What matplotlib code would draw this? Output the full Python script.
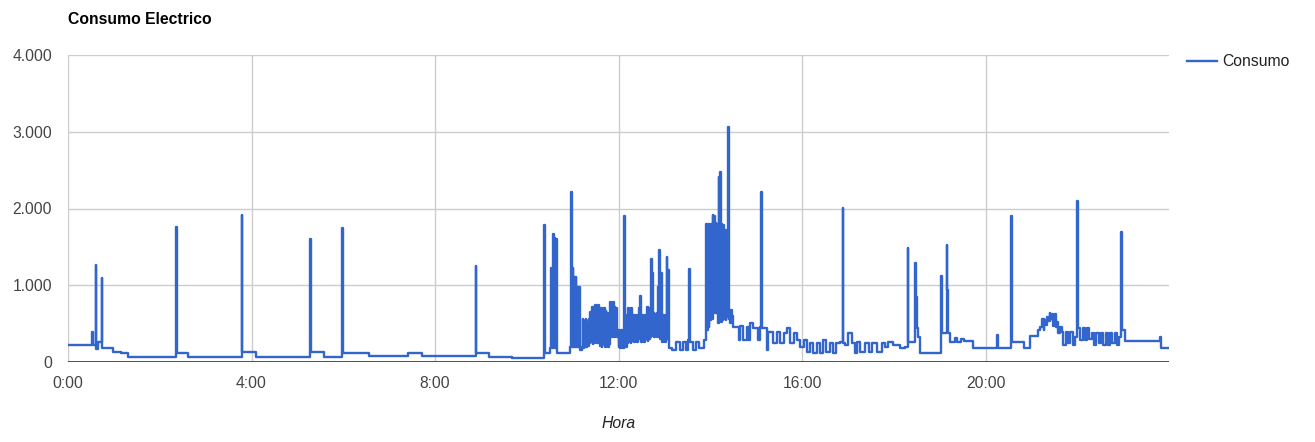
import numpy as np
import matplotlib.pyplot as plt
from matplotlib.ticker import FuncFormatter

# step breakpoints: minute of day -> watts (sparse parts of the day)
minutes_night = [0, 32, 33, 36, 37, 39, 44, 45, 59, 69, 79, 141, 142, 157, 227, 228, 246,
                 317, 318, 335, 359, 360, 394, 445, 463, 533, 534, 550, 581, 623, 624, 630,
                 632, 633, 634, 635, 636, 637, 638, 639, 640, 657, 658, 659, 660, 661, 662,
                 663, 664, 665, 666, 667, 668, 669, 670, 672]
watts_night = [220, 390, 220, 1270, 170, 260, 1090, 180, 130, 115, 65, 1760, 117, 65, 1920, 130, 65,
               1600, 130, 65, 1740, 120, 72, 120, 72, 1250, 120, 68, 55, 1785, 115, 180,
               1225, 180, 1665, 200, 1615, 180, 1600, 140, 120, 195, 2215, 200, 1225, 195, 1110,
               200, 1110, 195, 980, 200, 980, 200, 155, 200]

minutes_midday = [787, 790, 795, 800, 804, 808, 811, 812, 813, 817, 821, 825, 832]
watts_midday = [180, 155, 260, 155, 260, 160, 290, 1210, 260, 155, 260, 180, 290]

minutes_afternoon = [870, 877, 879, 883, 888, 890, 892, 896, 903, 905, 907, 908, 914, 916, 922,
                     927, 931, 936, 940, 944, 949, 953, 957, 962, 966, 970, 975, 979, 984, 988,
                     992, 997, 1001, 1005, 1010, 1013, 1014, 1016, 1020, 1025, 1029, 1032, 1036,
                     1042, 1047, 1051, 1058, 1064, 1069, 1073, 1079, 1088, 1095, 1098, 1099,
                     1108, 1109, 1110, 1112, 1114, 1142, 1143, 1149, 1150, 1151, 1154, 1160,
                     1163, 1168, 1172, 1184, 1215, 1217, 1234, 1235, 1250, 1258, 1269, 1271,
                     1274, 1276, 1277, 1279, 1281, 1282, 1284, 1285, 1287, 1288, 1289, 1290,
                     1291, 1292, 1294, 1295, 1297, 1300, 1302, 1305, 1308,
                     1311, 1314, 1317, 1320, 1321, 1324, 1327, 1330, 1333, 1336, 1339, 1342,
                     1345, 1348, 1351, 1354, 1357, 1360, 1363, 1366, 1369, 1372, 1375, 1377,
                     1378, 1379, 1382, 1428, 1430]
watts_afternoon = [455, 290, 470, 290, 455, 290, 505, 440, 290, 455, 2215, 440, 155, 390, 250,
                   390, 250, 380, 440, 250, 380, 290, 195, 290, 130, 250, 115, 250, 115, 290,
                   130, 250, 115, 250, 260, 2005, 250, 220, 380, 250, 115, 260, 130,
                   250, 130, 250, 130, 250, 195, 260, 220, 180, 195, 1485, 260,
                   1290, 850, 440, 330, 115, 1120, 375, 1525, 940, 380, 260, 310,
                   260, 300, 275, 180, 350, 180, 1900, 260, 180, 340, 420, 450,
                   560, 420, 545, 480, 590, 530, 640, 560, 620, 470, 600, 545,
                   620, 455, 520, 380, 455, 390, 220, 390, 250,
                   390, 220, 330, 2095, 440, 290, 440, 290, 440, 300, 380, 220,
                   380, 250, 380, 220, 380, 220, 380, 250, 380, 220, 330, 1695,
                   590, 415, 275, 325, 180]

# dense one-minute blocks
dense_a_start = 673
dense_a = [560, 180, 540, 200, 560, 190, 520, 210, 560, 250, 650, 260, 715, 240, 690, 250,
           740, 270, 720, 250, 740, 300, 700, 210, 700, 195, 680, 230, 700, 200, 660, 260,
           640, 200, 620, 230, 780, 330, 760, 340, 780, 330, 715, 340, 700, 330, 415, 200,
           380, 180, 415, 190, 400, 180, 1900, 195, 610, 200, 590, 250, 700, 260, 680, 250,
           700, 270, 610, 260, 600, 280, 610, 260, 590, 300, 700, 860, 300, 260, 610, 270,
           600, 260, 610, 300, 715, 280, 700, 300, 600, 330, 1340, 1160, 340, 640, 330, 620,
           350, 640, 330, 980, 1460, 300, 620, 1160, 260, 610, 280, 600, 260, 610, 1370, 300,
           1200, 180]

dense_b_start = 835
dense_b = [1800, 415, 1800, 450, 1790, 545, 1800, 560, 1915, 700, 1900, 640, 1810, 635, 1800,
           505, 2410, 560, 2475, 520, 1800, 545, 1790, 560, 1720, 545, 1710, 600, 3060, 560,
           680, 505, 680, 520, 600]

t = np.concatenate([minutes_night,
                    np.arange(dense_a_start, dense_a_start + len(dense_a)),
                    minutes_midday,
                    np.arange(dense_b_start, dense_b_start + len(dense_b)),
                    minutes_afternoon, [1440]])
w = np.concatenate([watts_night, dense_a, watts_midday, dense_b, watts_afternoon, [180]])
order = np.argsort(t, kind='stable')
t, w = t[order], w[order]

fig = plt.figure(figsize=(13.15, 4.42), dpi=100)
ax = fig.add_axes([68 / 1315, 1 - 362 / 442, (1169 - 68) / 1315, (362 - 55) / 442])

ax.plot(t, w, drawstyle='steps-post', color='#3366cc', linewidth=1.7, label='Consumo', zorder=3)

ax.set_xlim(0, 1440)
ax.set_ylim(0, 4000)
ax.set_xticks(np.arange(0, 1440, 240))
ax.set_yticks(np.arange(0, 4001, 1000))
ax.xaxis.set_major_formatter(FuncFormatter(lambda v, p: f"{int(v // 60)}:00"))
ax.yaxis.set_major_formatter(FuncFormatter(lambda v, p: f"{int(v):,}".replace(',', '.')))
ax.grid(True, color='#cccccc', linewidth=1)
ax.set_axisbelow(True)
ax.axhline(0, color='#333333', linewidth=1.2, zorder=4)
for s in ax.spines.values():
    s.set_visible(False)
ax.tick_params(axis='x', length=0, labelsize=11.3, labelcolor='#444444', pad=10)
ax.tick_params(axis='y', length=0, labelsize=11.3, labelcolor='#444444', pad=11.5)
for lbl in ax.get_xticklabels() + ax.get_yticklabels():
    lbl.set_fontfamily('Liberation Sans')

fig.text(68 / 1315, 1 - 20 / 442, 'Consumo Electrico', fontsize=11.3, fontweight='bold',
         family='Liberation Sans', va='center', ha='left', color='#000000')
fig.text(619 / 1315, 1 - 423 / 442, 'Hora', fontsize=11.3, style='italic',
         family='Liberation Sans', va='center', ha='center', color='#222222')

leg = ax.legend(loc='center left', bbox_to_anchor=(1187 / 1315, 1 - 62 / 442),
                bbox_transform=fig.transFigure, frameon=False,
                prop={'family': 'Liberation Sans', 'size': 11.3}, handlelength=1.9,
                handletextpad=0.35, borderaxespad=0, borderpad=0)
for txt in leg.get_texts():
    txt.set_color('#222222')

fig.savefig('out.png', dpi=100)
plt.close(fig)
